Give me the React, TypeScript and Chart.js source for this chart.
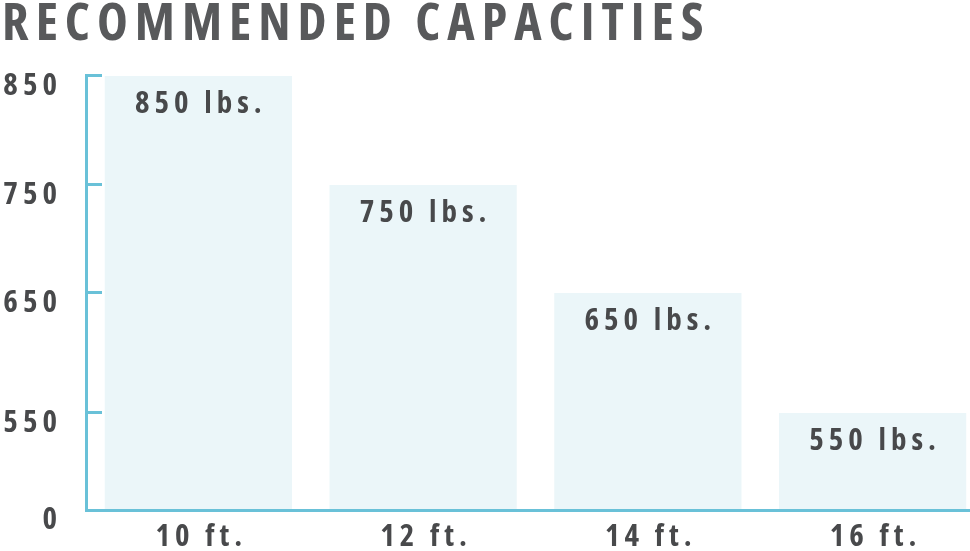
import React, { useEffect, useRef } from 'react';
import { Chart, registerables, LinearScale } from 'chart.js';

// ---- data ----
const CATEGORIES: string[] = ['10 ft.', '12 ft.', '14 ft.', '16 ft.'];
const CAPACITIES: number[] = [850, 750, 650, 550];
const Y_TICKS: number[] = [0, 550, 650, 750, 850];
const UNIT = 'lbs.';
const TITLE = 'RECOMMENDED CAPACITIES';

// ---- layout of the broken (piecewise) value axis: relative heights of each tick segment ----
const SEGMENT_WEIGHTS: number[] = [97.5, 120, 108, 109];

// ---- styles ----
const FONT = '"Open Sans", "DejaVu Sans Condensed", sans-serif';
const WEIGHT = 'bold condensed';
const AXIS_COLOR = '#69c1d8';
const BAR_COLOR = '#ebf6f9';
const TEXT_COLOR = '#48494b';
const TITLE_COLOR = '#58595b';
const TITLE_SPACING = '7px';
const LABEL_SPACING = '5px';

class PiecewiseScale extends LinearScale {
  static id = 'piecewise';
  static defaults = LinearScale.defaults;

  _fraction(v: number): number {
    const stops = Y_TICKS;
    const w = SEGMENT_WEIGHTS;
    const total = w.reduce((a, b) => a + b, 0);
    if (v <= stops[0]) return 0;
    let acc = 0;
    for (let i = 0; i < w.length; i++) {
      const a = stops[i];
      const b = stops[i + 1];
      if (v <= b) return (acc + (w[i] * (v - a)) / (b - a)) / total;
      acc += w[i];
    }
    return 1;
  }

  getPixelForValue(value: any): number {
    if (value === null || value === undefined || isNaN(value)) return NaN;
    return (this as any).getPixelForDecimal(this._fraction(+value));
  }

  getValueForPixel(pixel: number): number {
    const d = (this as any).getDecimalForPixel(pixel);
    const stops = Y_TICKS;
    const w = SEGMENT_WEIGHTS;
    const total = w.reduce((a, b) => a + b, 0);
    let acc = 0;
    const target = d * total;
    for (let i = 0; i < w.length; i++) {
      if (target <= acc + w[i]) {
        return stops[i] + ((target - acc) / w[i]) * (stops[i + 1] - stops[i]);
      }
      acc += w[i];
    }
    return stops[stops.length - 1];
  }
}

Chart.register(...registerables, PiecewiseScale as any);

const labelPlugin = {
  id: 'spacedLabels',
  beforeDraw(chart: any) {
    chart.ctx.letterSpacing = TITLE_SPACING;
  },
  afterDatasetsDraw(chart: any) {
    const ctx = chart.ctx;
    const meta = chart.getDatasetMeta(0);
    ctx.save();
    ctx.letterSpacing = LABEL_SPACING;
    ctx.font = `${WEIGHT} 31px ${FONT}`;
    ctx.fillStyle = TEXT_COLOR;
    ctx.textAlign = 'center';
    ctx.textBaseline = 'alphabetic';
    meta.data.forEach((bar: any, i: number) => {
      ctx.fillText(`${CAPACITIES[i]} ${UNIT}`, bar.x + 2.5, bar.y + 37.5);
    });
    ctx.restore();
    ctx.letterSpacing = LABEL_SPACING;
  },
  afterDraw(chart: any) {
    chart.ctx.letterSpacing = '0px';
  },
};

export default function App() {
  const ref = useRef<HTMLCanvasElement | null>(null);

  useEffect(() => {
    document.body.style.margin = '0';
    if (!ref.current) return;
    const chart = new Chart(ref.current, {
      type: 'bar',
      data: {
        labels: CATEGORIES,
        datasets: [
          {
            data: CAPACITIES,
            backgroundColor: BAR_COLOR,
            borderWidth: 0,
            barPercentage: 0.833,
            categoryPercentage: 1,
          },
        ],
      },
      options: {
        animation: false,
        responsive: false,
        devicePixelRatio: 1,
        layout: { padding: { left: 2, right: 5, top: 0, bottom: 0 } },
        plugins: {
          legend: { display: false },
          tooltip: { enabled: false },
          title: {
            display: true,
            text: TITLE,
            align: 'start',
            color: TITLE_COLOR,
            font: { family: FONT, size: 52, weight: WEIGHT, lineHeight: 0.842 },
            padding: { top: 3, bottom: 29.2 },
          },
        },
        scales: {
          x: {
            type: 'category',
            offset: true,
            grid: { display: false, drawTicks: false, tickLength: 0 },
            border: { display: true, color: AXIS_COLOR, width: 3, z: 1 },
            ticks: {
              color: TEXT_COLOR,
              font: { family: FONT, size: 31, weight: WEIGHT },
              padding: 8,
              labelOffset: 3,
              z: 1,
              maxRotation: 0,
              autoSkip: false,
            },
            afterFit: (s: any) => {
              s.height = 40.5;
              s.paddingLeft = 0;
              s.paddingRight = 0;
            },
          },
          y: {
            type: 'piecewise' as any,
            min: 0,
            max: 850,
            afterBuildTicks: (s: any) => {
              s.ticks = Y_TICKS.map((v) => ({ value: v }));
            },
            grid: {
              display: true,
              drawOnChartArea: false,
              drawTicks: true,
              tickLength: -16,
              tickWidth: 3,
              tickColor: AXIS_COLOR,
              lineWidth: 3,
              color: AXIS_COLOR,
            },
            border: { display: true, color: AXIS_COLOR, width: 3, z: 1 },
            ticks: {
              color: TEXT_COLOR,
              font: { family: FONT, size: 31, weight: WEIGHT },
              padding: 40,
              labelOffset: 10,
              z: 1,
              callback: (v: any) => String(v),
            },
            afterFit: (s: any) => {
              s.width = 84;
              s.paddingTop = 0;
              s.paddingBottom = 0;
            },
          },
        },
      } as any,
      plugins: [labelPlugin],
    });
    return () => chart.destroy();
  }, []);

  return (
    <div style={{ width: 970, height: 551, overflow: 'hidden', position: 'relative', background: '#fff' }}>
      <canvas ref={ref} width={990} height={551} style={{ display: 'block', width: 990, height: 551 }} />
    </div>
  );
}
